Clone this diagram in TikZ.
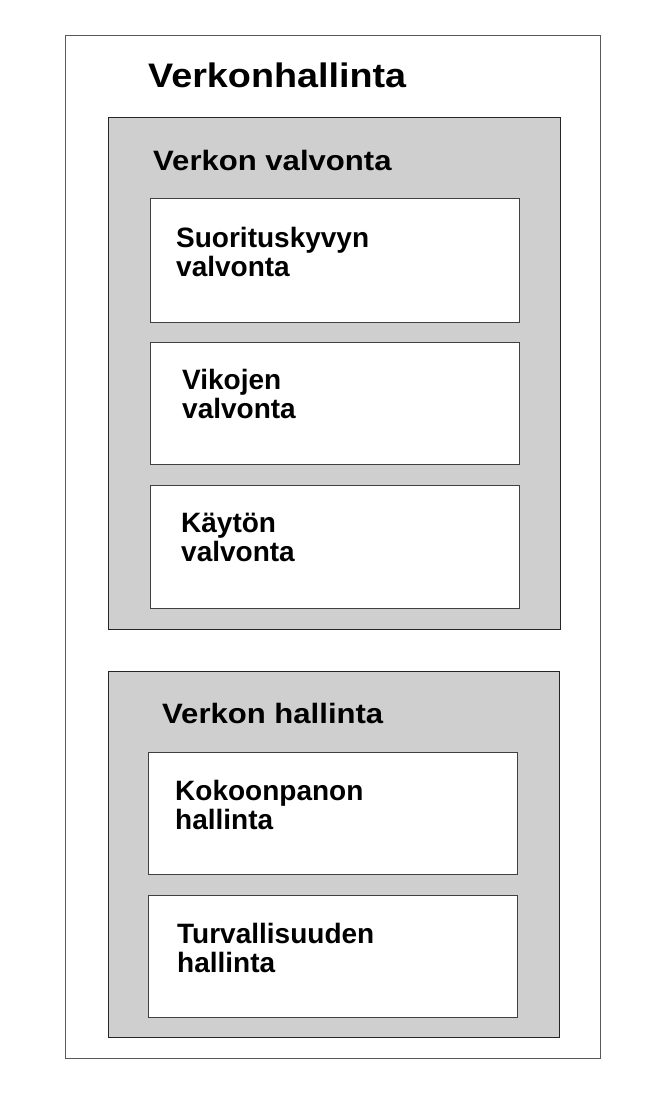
\documentclass[tikz,border=0pt]{standalone}
\usepackage{fontspec}
\setmainfont{Liberation Sans}
\newfontfamily\widefont[FakeStretch=1.11]{Liberation Sans}
\tikzset{
  outerbox/.style={draw=black!65, line width=1pt, fill=white, anchor=north west, inner sep=0pt},
  greybox/.style={draw=black!85, line width=1.3pt, fill=black!19, anchor=north west, inner sep=0pt},
  itembox/.style={draw=black!75, line width=1pt, fill=white, anchor=north west, inner sep=0pt},
  titletext/.style={anchor=base west, inner sep=0pt, font=\widefont\bfseries\fontsize{34}{40}\selectfont},
  headtext/.style={anchor=base west, inner sep=0pt, font=\widefont\bfseries\fontsize{28}{34}\selectfont},
  itemtext/.style={anchor=base west, inner sep=0pt, align=left, font=\bfseries\fontsize{28}{29}\selectfont},
}
\begin{document}
\begin{tikzpicture}[x=1pt,y=-1pt]
\useasboundingbox (0,0) rectangle (660,1098);
\node[outerbox, minimum width=535pt, minimum height=1023pt] (outer) at (65,35) {};
\node[titletext] (title) at (148,87) {Verkonhallinta};
% Verkon valvonta
\node[greybox, minimum width=452pt, minimum height=512pt] (g1) at (108,117) {};
\node[headtext] (h1) at (153,170) {Verkon valvonta};
\node[itembox, minimum width=369pt, minimum height=124pt] (w1) at (150,198) {};
\node[itemtext] (t1) at (176,276) {Suorituskyvyn\\valvonta};
\node[itembox, minimum width=369pt, minimum height=122pt] (w2) at (150,342) {};
\node[itemtext] (t2) at (182,418) {Vikojen\\valvonta};
\node[itembox, minimum width=369pt, minimum height=123pt] (w3) at (150,485) {};
\node[itemtext] (t3) at (181,561) {Käytön\\valvonta};
% Verkon hallinta
\node[greybox, minimum width=451pt, minimum height=366pt] (g2) at (108,671) {};
\node[headtext] (h2) at (162,723) {Verkon hallinta};
\node[itembox, minimum width=369pt, minimum height=122pt] (w4) at (148,752) {};
\node[itemtext] (t4) at (175,829) {Kokoonpanon\\hallinta};
\node[itembox, minimum width=369pt, minimum height=122pt] (w5) at (148,895) {};
\node[itemtext] (t5) at (177,972) {Turvallisuuden\\hallinta};
\end{tikzpicture}
\end{document}
